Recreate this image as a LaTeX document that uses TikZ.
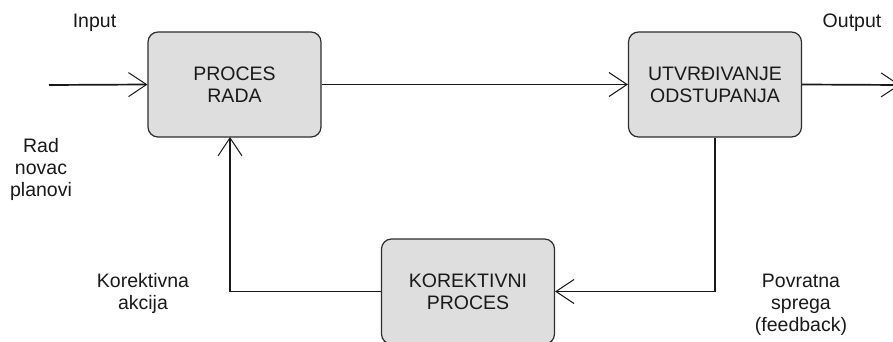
\documentclass[tikz,border=0pt]{standalone}
\usepackage{fontspec}
\setmainfont{Liberation Sans}
\usetikzlibrary{arrows.meta}
\definecolor{boxfill}{RGB}{222,222,222}
\definecolor{boxline}{RGB}{45,45,45}
\definecolor{inkc}{RGB}{25,25,25}
\begin{document}
\begin{tikzpicture}[x=1pt,y=-1pt,
  font=\fontsize{19.5}{22}\selectfont,
  procbox/.style={draw=boxline, line width=1.2pt, fill=boxfill, rounded corners=10pt,
    minimum width=173pt, minimum height=105pt, align=center, inner sep=0pt, text=inkc},
  lbl/.style={align=center, text=inkc, inner sep=0pt},
  flow/.style={draw=inkc, line width=1.7pt,
    -{Straight Barb[length=18pt,width=24pt,line width=1pt]}}
]
\useasboundingbox (0,0) rectangle (893,342);

% process blocks
\node[procbox] (proc) at (234.5,84.5) {PROCES\\RADA};
\node[procbox] (utv) at (715,84.5) {UTVRĐIVANJE\\ODSTUPANJA};
\node[procbox] (kor) at (468,291.5) {KOREKTIVNI\\PROCES};

% free ends of the main line
\coordinate (in) at (49,85);
\coordinate (out) at (900,85);
\coordinate (up) at (230,137);

% connectors
\draw[flow] (in) -- (proc.west);
\draw[flow] (proc.east) -- (utv.west);
\draw[flow] (utv.east) -- (out);
\draw[flow, rounded corners=0pt] (utv.south) -- (utv.south |- kor.east) -- (kor.east);
\draw[flow] (kor.west) -| (up);

% labels
\node[lbl] (linput) at (94.5,23) {Input};
\node[lbl] (loutput) at (852,23) {Output};
\node[lbl, anchor=north] (lres) at (41,138) {Rad\\novac\\planovi};
\node[lbl, anchor=north] (lkor) at (143,273.5) {Korektivna\\akcija};
\node[lbl, anchor=north] (lfb) at (801,273.5) {Povratna\\sprega\\(feedback)};
\end{tikzpicture}
\end{document}
